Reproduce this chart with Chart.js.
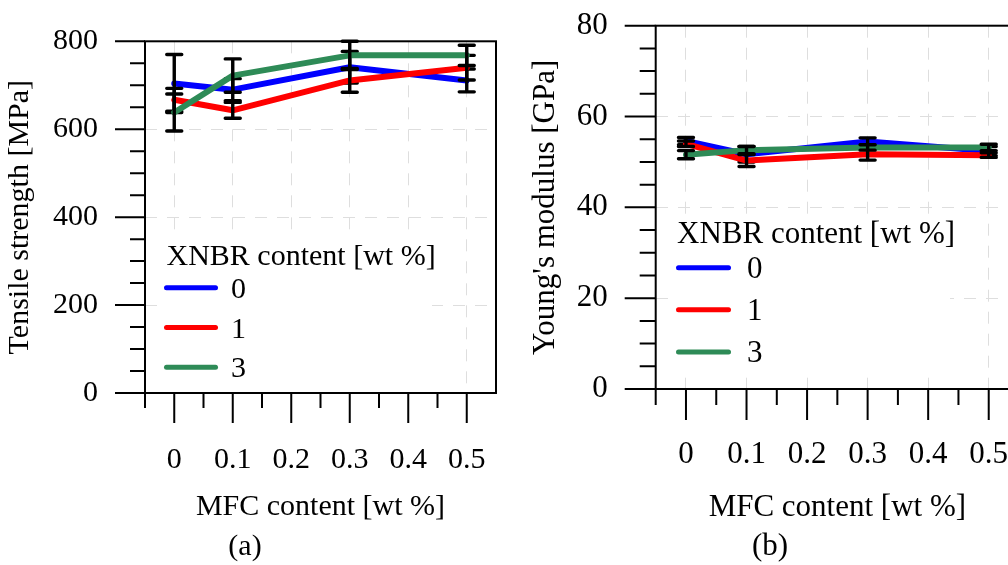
<!DOCTYPE html>
<html>
<head>
<meta charset="utf-8">
<script src="https://cdn.jsdelivr.net/npm/chart.js@4.4.0/dist/chart.umd.min.js"></script>
<style>
html, body { margin: 0; padding: 0; background: #fff; overflow: hidden; }
body { width: 1008px; height: 565px; position: relative; font-family: "Liberation Serif", serif; }
canvas { position: absolute; top: 0; }
#tensileChart { left: 0; }
#modulusChart { left: 504px; }
.caption { position: absolute; top: 530px; height: 30px; line-height: 30px; text-align: center; color: #000; }
#capA { left: 0; width: 490px; font-size: 30px; }
#capB { left: 520px; width: 500px; font-size: 31px; }
</style>
</head>
<body>
<canvas id="tensileChart" width="504" height="565"></canvas>
<canvas id="modulusChart" width="530" height="565"></canvas>
<div class="caption" id="capA">(a)</div>
<div class="caption" id="capB">(b)</div>
<script>
// MFC content on the x axis, one series per XNBR content
const mfcContent = [0, 0.1, 0.3, 0.5];
const xnbrLabels = ['0', '1', '3'];
const seriesColours = ['#0000ff', '#ff0000', '#2e8b57'];

// (a) tensile strength [MPa] and its error bars
const tensile0 = [704, 690, 741, 711];
const tensile1 = [667, 643, 711, 740];
const tensile3 = [638, 722, 768, 768];
const tensileErr0 = [66, 25, 36, 26];
const tensileErr1 = [26, 18, 27, 28];
const tensileErr3 = [42, 38, 32, 23];

// (b) Young's modulus [GPa] and its error bars
const modulus0 = [54.6, 51.7, 54.5, 52.4];
const modulus1 = [54.0, 50.3, 51.7, 51.5];
const modulus3 = [51.6, 52.6, 53.2, 53.2];
const modulusErr0 = [0.8, 1.7, 0.8, 1.0];
const modulusErr1 = [0.6, 1.3, 1.3, 0.5];
const modulusErr3 = [0.9, 0.8, 0.6, 0.7];

// tick values
const mfcTicks = [0, 0.1, 0.2, 0.3, 0.4, 0.5];
const mfcMinor = [-0.05, 0.05, 0.15, 0.25, 0.35, 0.45];
const tensileTicks = [0, 200, 400, 600, 800];
const tensileMinor = [50, 100, 150, 250, 300, 350, 450, 500, 550, 650, 700, 750];
const modulusTicks = [0, 20, 40, 60, 80];
const modulusMinor = [5, 10, 15, 25, 30, 35, 45, 50, 55, 65, 70, 75];

Chart.defaults.font.family = "'Liberation Serif', 'Times New Roman', serif";
Chart.defaults.color = '#000';

const gridColour = '#dedede';

function seriesPoints(xs, ys) {
    return xs.map((x, i) => ({ x: x, y: ys[i] }));
}

function makeDatasets(values) {
    return values.map((ys, i) => ({
        label: xnbrLabels[i],
        data: seriesPoints(mfcContent, ys),
        borderColor: seriesColours[i],
        borderWidth: 6,
        borderJoinStyle: 'round',
        borderCapStyle: 'round',
        pointRadius: 0,
        fill: false,
        order: values.length - i
    }));
}

// fixed axis size, no extra label padding so the plot box lands where it should
function fixSize(s, w, h) {
    if (w !== null) s.width = w;
    if (h !== null) s.height = h;
    s.paddingLeft = s.paddingRight = s.paddingTop = s.paddingBottom = 0;
}

function errorBarPlugin(errors) {
    return {
        id: 'errorBars',
        afterDatasetDraw(chart, args) {
            const err = errors[args.index];
            const { ctx, scales: { x, y } } = chart;
            ctx.save();
            ctx.strokeStyle = '#000';
            ctx.lineWidth = 3.4;
            ctx.lineCap = 'round';
            chart.data.datasets[args.index].data.forEach((p, i) => {
                const px = x.getPixelForValue(p.x);
                const top = y.getPixelForValue(p.y + err[i]);
                const bot = y.getPixelForValue(p.y - err[i]);
                ctx.beginPath();
                ctx.moveTo(px, top); ctx.lineTo(px, bot);
                ctx.moveTo(px - 7.5, top); ctx.lineTo(px + 7.5, top);
                ctx.moveTo(px - 7.5, bot); ctx.lineTo(px + 7.5, bot);
                ctx.stroke();
            });
            ctx.restore();
        }
    };
}

function framePlugin(ax) {
    return {
        id: 'frameTicks',
        afterDraw(chart) {
            const { ctx, chartArea: a, scales: { x, y } } = chart;
            ctx.save();
            ctx.strokeStyle = '#000';
            ctx.lineWidth = 2;
            ctx.strokeRect(a.left, a.top, a.right - a.left, a.bottom - a.top);
            ctx.beginPath();
            ax.xMajor.forEach(v => {
                const px = x.getPixelForValue(v);
                ctx.moveTo(px, a.bottom); ctx.lineTo(px, a.bottom + ax.major);
            });
            ax.xMinor.forEach(v => {
                const px = x.getPixelForValue(v);
                ctx.moveTo(px, a.bottom); ctx.lineTo(px, a.bottom + ax.minor);
            });
            ax.yMajor.forEach(v => {
                const py = y.getPixelForValue(v);
                ctx.moveTo(a.left, py); ctx.lineTo(a.left - ax.major, py);
            });
            ax.yMinor.forEach(v => {
                const py = y.getPixelForValue(v);
                ctx.moveTo(a.left, py); ctx.lineTo(a.left - ax.minor, py);
            });
            ctx.stroke();
            ctx.restore();
        }
    };
}

function legendPlugin(lg) {
    return {
        id: 'legendBox',
        beforeDatasetsDraw(chart) {
            const { ctx, chartArea: a } = chart;
            ctx.save();
            ctx.fillStyle = '#fff';
            ctx.fillRect(a.left + lg.box[0], a.top + lg.box[1], lg.box[2] - lg.box[0], lg.box[3] - lg.box[1]);
            ctx.font = lg.fontSize + "px 'Liberation Serif', serif";
            ctx.fillStyle = '#000';
            ctx.textBaseline = 'alphabetic';
            ctx.fillText('XNBR content [wt %]', a.left + lg.titleX, a.top + lg.titleY);
            chart.data.datasets.forEach((ds, i) => {
                const yy = a.top + lg.firstRow + i * lg.rowGap;
                ctx.strokeStyle = ds.borderColor;
                ctx.lineWidth = 5;
                ctx.lineCap = 'round';
                ctx.beginPath();
                ctx.moveTo(a.left + lg.lineStart, yy);
                ctx.lineTo(a.left + lg.lineEnd, yy);
                ctx.stroke();
                ctx.fillText(ds.label, a.left + lg.textX, yy + lg.textDrop);
            });
            ctx.restore();
        }
    };
}

function makeChart(id, cfg) {
    const tickFont = { size: cfg.fontSize };
    const titleFont = { size: cfg.fontSize };
    return new Chart(document.getElementById(id), {
        type: 'line',
        data: { datasets: makeDatasets(cfg.values) },
        options: {
            responsive: false,
            animation: false,
            layout: { padding: { left: 0, top: cfg.top, right: cfg.right, bottom: 0 } },
            plugins: { legend: { display: false }, tooltip: { enabled: false } },
            scales: {
                x: {
                    type: 'linear',
                    min: -0.05, max: 0.55,
                    afterBuildTicks: s => { s.ticks = mfcTicks.map(v => ({ value: v })); },
                    afterFit: s => fixSize(s, null, cfg.xHeight),
                    grid: { color: gridColour, lineWidth: 1, drawTicks: false },
                    border: { display: false, dash: [12, 10] },
                    ticks: { padding: cfg.xPad, font: tickFont, callback: v => String(v) },
                    title: { display: true, text: 'MFC content [wt %]', font: titleFont, padding: { bottom: cfg.xTitlePad } }
                },
                y: {
                    min: cfg.yMin, max: cfg.yMax,
                    afterBuildTicks: s => { s.ticks = cfg.yTicks.map(v => ({ value: v })); },
                    afterFit: s => fixSize(s, cfg.yWidth, null),
                    grid: { color: gridColour, lineWidth: 1, drawTicks: false },
                    border: { display: false, dash: [12, 10] },
                    ticks: { padding: cfg.yPad, font: tickFont, callback: v => String(v) },
                    title: { display: true, text: cfg.yTitle, font: titleFont, padding: { top: cfg.yTitlePad } }
                }
            }
        },
        plugins: [
            legendPlugin(cfg.legend),
            errorBarPlugin(cfg.errors),
            framePlugin({ xMajor: mfcTicks, xMinor: mfcMinor, yMajor: cfg.yTicks, yMinor: cfg.yMinor, major: cfg.major, minor: cfg.minor })
        ]
    });
}

var tensileChart = makeChart('tensileChart', {
    values: [tensile0, tensile1, tensile3],
    errors: [tensileErr0, tensileErr1, tensileErr3],
    yTicks: tensileTicks, yMinor: tensileMinor, yMin: 0, yMax: 800,
    yTitle: 'Tensile strength [MPa]',
    fontSize: 30, top: 41.3, right: 8, xHeight: 172, yWidth: 145,
    xPad: 49, yPad: 47, xTitlePad: 40, yTitlePad: 2, major: 30, minor: 15,
    legend: { fontSize: 30, box: [12, 196.7, 287, 342.7], titleX: 21.5, titleY: 223.7,
              firstRow: 246.4, rowGap: 39.8, lineStart: 21.5, lineEnd: 70.5, textX: 86, textDrop: 10 }
});

var modulusChart = makeChart('modulusChart', {
    values: [modulus0, modulus1, modulus3],
    errors: [modulusErr0, modulusErr1, modulusErr3],
    yTicks: modulusTicks, yMinor: modulusMinor, yMin: 0, yMax: 80,
    yTitle: "Young's modulus [GPa]",
    fontSize: 31, top: 25.7, right: 15, xHeight: 176, yWidth: 151.7,
    xPad: 47, yPad: 48, xTitlePad: 39, yTitlePad: 23, major: 31, minor: 16,
    legend: { fontSize: 31, box: [17.3, 191.3, 294.3, 343.8], titleX: 21.3, titleY: 217.3,
              firstRow: 242, rowGap: 42.1, lineStart: 22.8, lineEnd: 72.8, textX: 91.3, textDrop: 10.3 }
});
</script>
</body>
</html>
